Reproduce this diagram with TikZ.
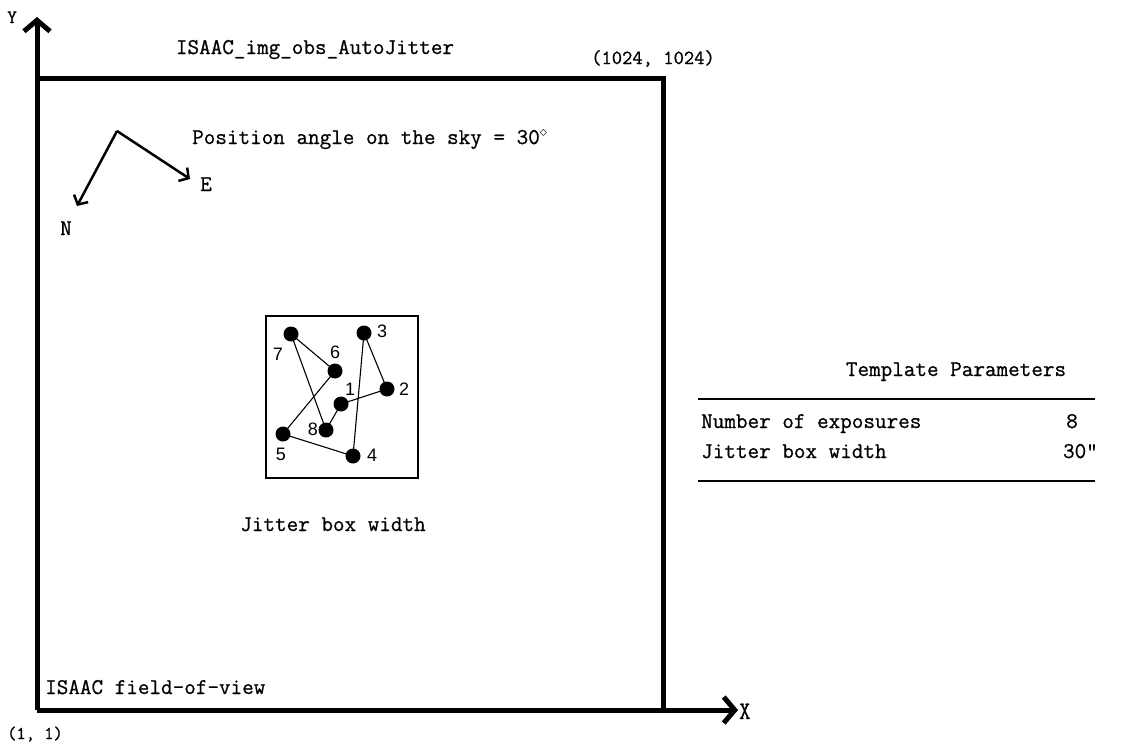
\documentclass[tikz,border=0pt]{standalone}
\usepackage{fontspec}
\newfontfamily\numfont{Liberation Sans}
\newfontfamily\rtt{Latin Modern Mono}[FakeBold=0.7]
\usetikzlibrary{arrows.meta}
\begin{document}
\begin{tikzpicture}[x=1pt,y=-1pt,
  lbl/.style={font=\rtt\fontsize{22.5}{22.5}\selectfont, inner sep=0pt, anchor=base west},
  lblc/.style={lbl, anchor=base},
  lble/.style={lbl, anchor=base east},
  small/.style={lbl, font=\rtt\fontsize{19}{19}\selectfont},
  axis/.style={line width=5pt, -{Straight Barb[length=11pt,width=26pt]}},
  frame/.style={line width=5pt},
  comp/.style={line width=2.5pt, -{Straight Barb[length=7pt,width=16pt]}},
  dot/.style={circle, fill=black, inner sep=0pt, minimum size=15pt},
  num/.style={font=\numfont\fontsize{18}{18}\selectfont, inner sep=0pt, anchor=base},
  link/.style={line width=1.1pt},
  rule/.style={line width=1.6pt}]
\useasboundingbox (0,0) rectangle (1123,747);
% axes and frame
\coordinate (O) at (37,710);
\coordinate (Ytip) at (37,17);
\coordinate (Xtip) at (738,710);
\coordinate (TL) at (37,78);
\coordinate (TR) at (663,78);
\coordinate (BR) at (663,710);
\draw[frame] (TL) -- (TR) -- (BR);
\draw[axis] (O) -- (Ytip);
\draw[axis] (O) -- (Xtip);
\node[small] (ylab) at (7,23) {Y};
\node[small, font=\rtt\fontsize{22}{22}\selectfont, yscale=1.15, transform shape] (xlab) at (739,719) {X};
\node[small, font=\rtt\fontsize{18}{18}\selectfont] (orig) at (7,739) {(1,~1)};
\node[small, font=\rtt\fontsize{20}{20}\selectfont] (corner) at (591,64) {(1024,~1024)};
\node[lblc] (title) at (315,54) {ISAAC\_img\_obs\_AutoJitter};
\node[lbl] (fov) at (45,694) {ISAAC field-of-view};
% compass
\coordinate (C) at (117,131);
\coordinate (Nt) at (77,206);
\coordinate (Et) at (190,179);
\draw[comp] (C) -- (Nt);
\draw[comp] (C) -- (Et);
\node[lbl] (nlab) at (60,235) {N};
\node[lbl] (elab) at (200,191) {E};
\node[lbl] (pa) at (192,144) {Position angle on the sky = 30$^{\diamond}$};
% jitter box
\node[draw, line width=1.5pt, minimum width=152pt, minimum height=162pt, inner sep=0pt] (jbox) at (342,397) {};
\node[dot] (p1) at (341,404) {};
\node[dot] (p2) at (387,389) {};
\node[dot] (p3) at (364,333) {};
\node[dot] (p4) at (353,456) {};
\node[dot] (p5) at (283,434) {};
\node[dot] (p6) at (335,371) {};
\node[dot] (p7) at (291,334) {};
\node[dot] (p8) at (326,430) {};
\draw[link] (p1.center) -- (p2.center) -- (p3.center) -- (p4.center) -- (p5.center) -- (p6.center) -- (p7.center) -- (p8.center) -- (p1.center);
\node[num] (n1) at (350,395) {1};
\node[num] (n2) at (404,395) {2};
\node[num] (n3) at (382,337) {3};
\node[num] (n4) at (372,461) {4};
\node[num] (n5) at (281,460) {5};
\node[num] (n6) at (335,358) {6};
\node[num] (n7) at (278,360) {7};
\node[num] (n8) at (313,435) {8};
\node[lblc] (jbw) at (333,531) {Jitter box width};
% table
\node[lblc] (tp) at (956,376) {Template Parameters};
\coordinate (r1a) at (698,399);
\coordinate (r1b) at (1095,399);
\coordinate (r2a) at (698,481);
\coordinate (r2b) at (1095,481);
\draw[rule] (r1a) -- (r1b);
\draw[rule] (r2a) -- (r2b);
\node[lbl] (ne) at (701,428) {Number of exposures};
\node[lble] (nev) at (1078,428) {8};
\node[lbl] (jw) at (701,458) {Jitter box width};
\node[lble] (jwv) at (1098,458) {30"};
\end{tikzpicture}
\end{document}
